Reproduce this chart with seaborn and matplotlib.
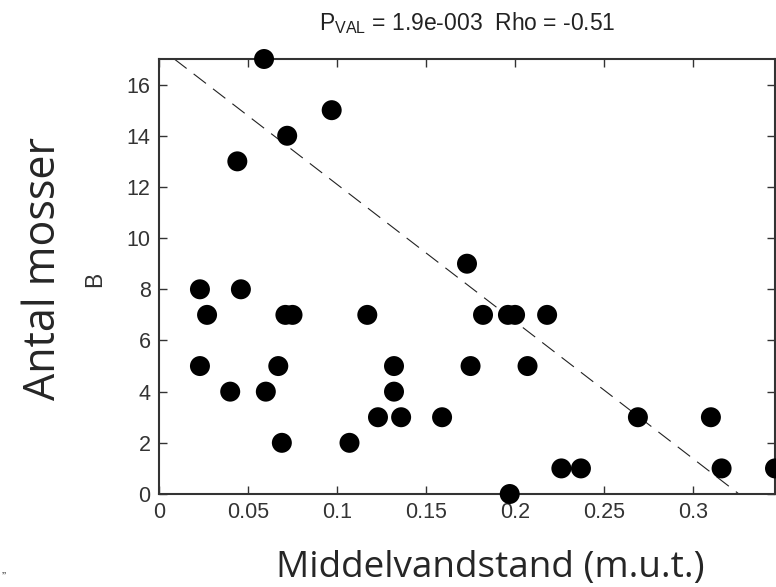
import matplotlib.pyplot as plt
import numpy as np
import pandas as pd
import seaborn as sns

# values
water_level = [0.059, 0.097, 0.072, 0.044,
               0.173,
               0.023, 0.046,
               0.027, 0.071, 0.075, 0.117, 0.182, 0.196, 0.200, 0.218,
               0.023, 0.067, 0.132, 0.175, 0.207,
               0.040, 0.060, 0.132,
               0.123, 0.136, 0.159, 0.269, 0.310,
               0.069, 0.107,
               0.226, 0.237, 0.316, 0.346,
               0.197]
moss_count = [17, 15, 14, 13,
              9,
              8, 8,
              7, 7, 7, 7, 7, 7, 7, 7,
              5, 5, 5, 5, 5,
              4, 4, 4,
              3, 3, 3, 3, 3,
              2, 2,
              1, 1, 1, 1,
              0]

# dashed trend line as drawn in the reference
fit_intercept = 17.46
fit_slope = -53.6

x_ticks = [0, 0.05, 0.1, 0.15, 0.2, 0.25, 0.3]
x_tick_labels = ["0", "0.05", "0.1", "0.15", "0.2", "0.25", "0.3"]
y_ticks = [0, 2, 4, 6, 8, 10, 12, 14, 16]

title = r"P$_{\rm VAL}$ = 1.9e-003  Rho = -0.51"

sns.set_style("ticks")
plt.rcParams["font.family"] = ["Liberation Sans", "DejaVu Sans"]
plt.rcParams["mathtext.fontset"] = "custom"
plt.rcParams["mathtext.rm"] = "Liberation Sans"

df = pd.DataFrame({"level": water_level, "count": moss_count})

W, H = 776, 587
fig = plt.figure(figsize=(W / 100, H / 100), dpi=100)
ax = fig.add_axes([159 / W, 1 - 494 / H, (775 - 159) / W, (494 - 59) / H])

sns.scatterplot(data=df, x="level", y="count", s=207, color="black",
                edgecolor="none", marker="o", clip_on=False, zorder=3, ax=ax)
ax.axline((0, fit_intercept), slope=fit_slope, color="#222222",
          linewidth=0.8, dashes=(14, 8), zorder=2)

ax.set_xlim(0, 0.346)
ax.set_ylim(0, 17)
ax.set_xticks(x_ticks, x_tick_labels)
ax.set_yticks(y_ticks)
ax.tick_params(direction="in", top=True, right=True, length=5.5, width=1,
               labelsize=15.5, colors="#333333", pad=6)
for sp in ax.spines.values():
    sp.set_linewidth(1.5)
    sp.set_color("#333333")

ax.set_xlabel("")
ax.set_ylabel("B", fontsize=16.5, color="#333333")
ax.yaxis.set_label_coords(-0.086, 0.494)
ax.set_title(title, fontsize=16.5, color="#222222", pad=21)

fig.text(44 / W, 1 - 268 / H, "Antal mosser", rotation=90, ha="center",
         va="center", fontsize=31, family=["Open Sans", "DejaVu Sans"])
fig.text(490 / W, 10 / H, "Middelvandstand (m.u.t.)", ha="center",
         va="baseline", fontsize=26.6, family=["Open Sans", "DejaVu Sans"])
fig.text(2 / W, 6 / H, "\u201d", fontsize=9, color="#333333")

fig.savefig("out.png", dpi=100)
plt.close(fig)
